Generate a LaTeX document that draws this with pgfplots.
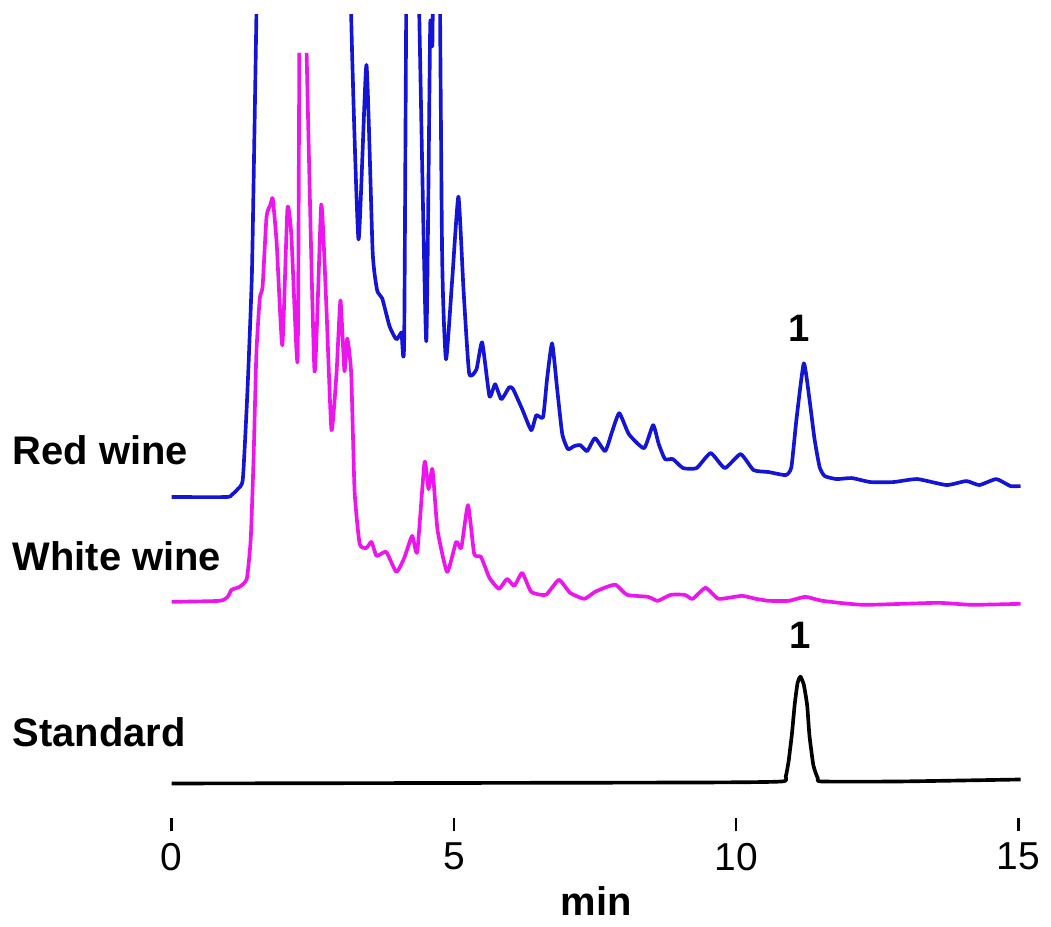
\documentclass[border=0pt]{standalone}
\usepackage{fontspec}
\setmainfont{Liberation Sans}
\usepackage{pgfplots}
\pgfplotsset{compat=1.18}
\definecolor{redwine}{RGB}{20,20,215}
\definecolor{whitewine}{RGB}{238,20,238}
\begin{document}
\begin{tikzpicture}
\begin{axis}[
  scale only axis, width=255.3pt, height=241.5pt,
  xmin=0, xmax=15.05, ymin=-20, ymax=785,
  axis y line=none, axis x line*=bottom,
  x axis line style={draw=none,-},
  xtick={0,5,10,15}, tick align=outside, major tick length=3.9pt,
  tick style={black, line width=0.8pt},
  xticklabel style={font=\fontsize{11.7}{14}\selectfont},
  /pgf/number format/assume math mode=true,
  xlabel={\bfseries min},
  xlabel style={font=\fontsize{12}{14}\selectfont, at={(axis description cs:0.5,-0.1205)}, anchor=base},
  clip mode=individual, unbounded coords=jump,
  every axis plot/.append style={line width=1.1pt, line join=round, smooth, tension=0.3},
]
% red wine
\addplot[redwine] coordinates {
(0.00,302) (0.97,302) (1.06,304) (1.17,310) (1.26,320) (1.34,406) (1.42,524)
(1.47,682) (1.50,784) (1.59,1100) (3.11,1100) (3.18,784) (3.31,560) (3.45,735)
(3.56,548) (3.64,509) (3.73,501) (3.86,473) (3.98,460) (4.07,467) (4.12,465)
(4.19,1100) (4.28,1100) (4.39,774) (4.51,458) (4.58,774) (4.62,760) (4.67,1100)
(4.71,1100) (4.79,550) (4.86,440) (4.97,520) (5.08,603) (5.17,510) (5.27,426)
(5.40,430) (5.50,457) (5.63,403) (5.73,415) (5.84,400) (5.98,412) (6.05,410)
(6.21,390) (6.37,369) (6.46,384) (6.58,382) (6.65,420) (6.74,456) (6.83,410)
(6.92,365) (7.02,350) (7.13,353) (7.24,354) (7.36,348) (7.50,361) (7.68,348)
(7.80,367) (7.93,386) (8.10,365) (8.37,351) (8.53,374) (8.63,355) (8.74,340)
(8.88,340) (9.06,331) (9.30,331) (9.55,346) (9.80,331) (10.08,345) (10.31,329)
(10.58,327) (10.88,324) (10.98,332) (11.07,380) (11.20,436) (11.30,400)
(11.39,360) (11.48,332) (11.57,323) (11.78,320) (12.05,321) (12.38,317)
(12.79,317) (13.21,320) (13.73,314) (14.08,318) (14.31,314) (14.61,320)
(14.86,313) (15.04,313)};
% white wine
\addplot[whitewine] coordinates {
(0.00,197) (0.85,198) (0.99,202) (1.06,209) (1.20,212) (1.33,220) (1.40,260)
(1.45,340) (1.50,446) (1.56,501) (1.61,513) (1.68,583) (1.75,595) (1.79,601)
(1.86,556) (1.96,454) (2.05,591) (2.12,564) (2.23,438) (2.26,747) (2.32,nan)
(2.39,747) (2.53,428) (2.65,595) (2.74,493) (2.83,369) (2.92,426) (2.99,499)
(3.06,428) (3.11,461) (3.18,426) (3.24,308) (3.33,255) (3.45,251) (3.54,257)
(3.63,243) (3.80,247) (3.98,227) (4.12,241) (4.26,263) (4.35,247) (4.48,337)
(4.55,310) (4.62,330) (4.71,269) (4.88,227) (5.04,257) (5.13,251) (5.25,294)
(5.36,245) (5.48,242) (5.63,221) (5.80,210) (5.94,220) (6.07,213) (6.21,226)
(6.37,207) (6.63,204) (6.86,219) (7.06,206) (7.31,200) (7.50,207) (7.71,212)
(7.87,214) (8.07,204) (8.44,202) (8.61,198) (8.84,204) (9.09,204) (9.23,200)
(9.46,211) (9.69,200) (10.10,203) (10.35,200) (10.58,198) (10.93,198)
(11.23,202) (11.53,198) (12.26,194) (13.57,196) (14.17,194) (15.04,195)};
% standard
\addplot[black] coordinates {
(0.00,15) (9.34,16) (10.81,17) (10.88,22) (10.93,37) (10.99,65) (11.04,95)
(11.09,116) (11.14,122) (11.20,114) (11.26,93) (11.30,63) (11.37,33)
(11.45,20) (11.52,17) (12.88,17) (15.04,19)};
\path (axis cs:-3.043,-127) rectangle (axis cs:15.549,800);
\begin{scope}[font=\bfseries\fontsize{12}{14}\selectfont]
\node[anchor=base west, inner sep=0pt] at (axis cs:-2.83,335) {Red wine};
\node[anchor=base west, inner sep=0pt] at (axis cs:-2.83,228) {White wine};
\node[anchor=base west, inner sep=0pt] at (axis cs:-2.83,52) {Standard};
\node[anchor=base, inner sep=0pt, font=\bfseries\fontsize{11.5}{14}\selectfont] at (axis cs:11.12,458) {1};
\node[anchor=base, inner sep=0pt, font=\bfseries\fontsize{11.5}{14}\selectfont] at (axis cs:11.13,150) {1};
\end{scope}
\end{axis}
\end{tikzpicture}
\end{document}
